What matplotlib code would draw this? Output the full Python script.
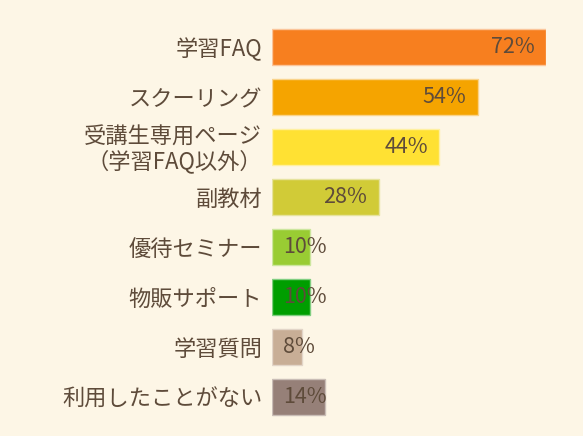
import matplotlib
matplotlib.use("Agg")
import matplotlib.pyplot as plt

plt.rcParams['font.family'] = ['Noto Sans CJK JP', 'DejaVu Sans']

categories = ["学習FAQ", "スクーリング", "受講生専用ページ\n（学習FAQ以外）", "副教材",
              "優待セミナー", "物販サポート", "学習質問", "利用したことがない"]
values = [72, 54, 44, 28, 10, 10, 8, 14]
colors = ["#F77F1F", "#F5A400", "#FFE133", "#D1CB37",
          "#99CC33", "#009E00", "#C8AE96", "#968078"]
edge_colors = ["#FBC59A", "#FAD38A", "#FFF0A0", "#E6E39E",
               "#CCE69E", "#80CE80", "#E2D5C8", "#C9BDB6"]

bg = "#FDF6E6"
text_col = "#5E4B3A"

W, H = 583, 436
fig = plt.figure(figsize=(W / 100, H / 100), dpi=100, facecolor=bg)
ax = fig.add_axes([272 / W, 14 / H, 274 / W, 400 / H])
ax.set_facecolor(bg)

ypos = range(len(categories))
ax.barh(ypos, values, height=0.73, color=colors, edgecolor=edge_colors, linewidth=1)
ax.set_xlim(0, 72)
ax.set_ylim(len(categories) - 0.5, -0.5)

for y, v in zip(ypos, values):
    if v >= 20:
        ax.text(v - 3.0, y, f"{v}%", ha="right", va="center", fontsize=15.5, color=text_col)
    else:
        ax.text(3.0, y, f"{v}%", ha="left", va="center", fontsize=15.5, color=text_col)

ax.set_yticks(list(ypos))
ax.set_yticklabels(categories, fontsize=16, color=text_col, linespacing=1.0)
ax.tick_params(axis="y", length=0, pad=7)
ax.set_xticks([])
for s in ax.spines.values():
    s.set_visible(False)

fig.savefig("out.png", dpi=100, facecolor=bg)
